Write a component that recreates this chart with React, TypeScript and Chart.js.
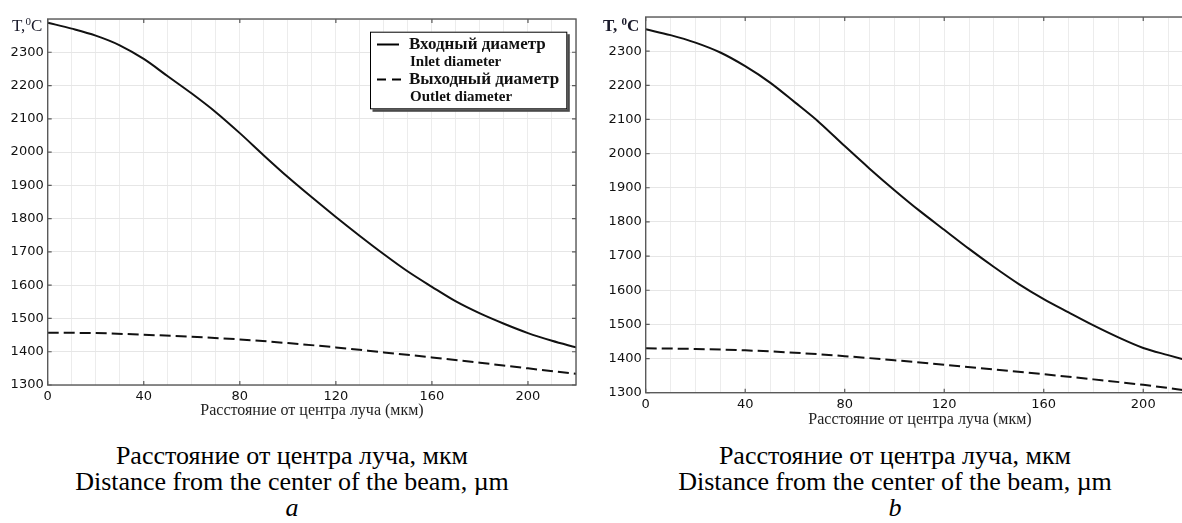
import React, { useEffect, useRef } from "react";
import { Chart, registerables } from "chart.js";

Chart.register(...registerables);

// ---- data ----
const inletDistanceA = [0, 10, 20, 30, 40, 50, 60, 70, 80, 90, 100, 110, 120, 130, 140, 150, 160, 170, 180, 190, 200, 210, 220];
const inletA = [2389, 2371, 2350, 2321, 2280, 2228, 2176, 2120, 2057, 1990, 1925, 1864, 1805, 1748, 1693, 1641, 1595, 1551, 1515, 1484, 1456, 1433, 1413];
const outletDistanceA = [0, 20, 40, 60, 80, 100, 120, 140, 160, 180, 200, 220];
const outletA = [1457, 1456, 1451, 1445, 1437, 1426, 1413, 1398, 1383, 1367, 1350, 1334];

const inletDistanceB = [0, 10, 20, 30, 40, 50, 60, 70, 80, 90, 100, 110, 120, 130, 140, 150, 160, 170, 180, 190, 200, 210, 220];
const inletB = [2364, 2347, 2325, 2296, 2256, 2208, 2150, 2090, 2022, 1956, 1893, 1833, 1777, 1721, 1668, 1618, 1574, 1535, 1497, 1462, 1431, 1410, 1390];
const outletDistanceB = [0, 20, 40, 60, 80, 100, 120, 140, 160, 180, 200, 220];
const outletB = [1430, 1428, 1424, 1417, 1407, 1395, 1382, 1368, 1354, 1339, 1323, 1304];

const xLabelValues = [0, 40, 80, 120, 160, 200];
const yLabelValues = [1300, 1400, 1500, 1600, 1700, 1800, 1900, 2000, 2100, 2200, 2300];

const legendTexts = ["Входный диаметр", "Inlet diameter", "Выходный диаметр", "Outlet diameter"];
const axisTitle = "Расстояние от центра луча (мкм)";
const captionRu = "Расстояние от центра луча, мкм";
const captionEn = "Distance from the center of the beam, µm";

type Cfg = {
  xsIn: number[];
  yIn: number[];
  xsOut: number[];
  yOut: number[];
  yAxisWidth: number;
  padTop: number;
  padRight: number;
  padBottom: number;
  legend: boolean;
};

const framePlugin = {
  id: "frameTicks",
  afterDraw(chart: any) {
    const { ctx, chartArea } = chart;
    const { left, right, top, bottom } = chartArea;
    const xs = chart.scales.x;
    const ys = chart.scales.y;
    ctx.save();
    ctx.strokeStyle = "#5a5a5a";
    ctx.lineWidth = 1.4;
    ctx.strokeRect(left, top, right - left, bottom - top);
    ctx.lineWidth = 1.2;
    ctx.beginPath();
    for (const v of xLabelValues) {
      const px = xs.getPixelForValue(v);
      ctx.moveTo(px, bottom);
      ctx.lineTo(px, bottom - 4);
      ctx.moveTo(px, top);
      ctx.lineTo(px, top + 4);
    }
    for (const v of yLabelValues) {
      const py = ys.getPixelForValue(v);
      ctx.moveTo(left, py);
      ctx.lineTo(left + 4, py);
      ctx.moveTo(right, py);
      ctx.lineTo(right - 4, py);
    }
    ctx.stroke();
    ctx.restore();
  },
};

const legendPlugin = {
  id: "customLegend",
  afterDraw(chart: any) {
    const opts = chart.options.plugins.customLegend;
    if (!opts || !opts.show) return;
    const { ctx } = chart;
    const bx = 370, by = 31.7, bw = 197.3, bh = 77.6;
    ctx.save();
    ctx.fillStyle = "#4a4a4a";
    ctx.fillRect(bx + 2.5, by + 2.5, bw, bh);
    ctx.fillStyle = "#ffffff";
    ctx.fillRect(bx, by, bw, bh);
    ctx.strokeStyle = "#000";
    ctx.lineWidth = 1;
    ctx.strokeRect(bx + 0.5, by + 0.5, bw - 1, bh - 1);

    ctx.strokeStyle = "#000";
    ctx.lineWidth = 2;
    ctx.beginPath();
    ctx.moveTo(377, 44.5);
    ctx.lineTo(399, 44.5);
    ctx.stroke();
    ctx.setLineDash([9, 6]);
    ctx.beginPath();
    ctx.moveTo(377, 79.5);
    ctx.lineTo(401, 79.5);
    ctx.stroke();
    ctx.setLineDash([]);

    ctx.fillStyle = "#111";
    ctx.textBaseline = "middle";
    ctx.textAlign = "left";
    ctx.font = "bold 17px 'Liberation Serif'";
    ctx.fillText(legendTexts[0], 409, 45);
    ctx.fillText(legendTexts[2], 409, 80);
    ctx.font = "bold 15px 'Liberation Serif'";
    ctx.fillText(legendTexts[1], 410, 62);
    ctx.fillText(legendTexts[3], 410, 97);
    ctx.restore();
  },
};

function makeConfig(c: Cfg): any {
  return {
    type: "line",
    data: {
      datasets: [
        {
          label: "inlet",
          data: c.xsIn.map((x, i) => ({ x, y: c.yIn[i] })),
          borderColor: "#111",
          borderWidth: 2,
          pointRadius: 0,
          cubicInterpolationMode: "monotone",
          fill: false,
        },
        {
          label: "outlet",
          data: c.xsOut.map((x, i) => ({ x, y: c.yOut[i] })),
          borderColor: "#111",
          borderWidth: 2,
          borderDash: [11, 5],
          pointRadius: 0,
          cubicInterpolationMode: "monotone",
          fill: false,
        },
      ],
    },
    options: {
      animation: false,
      responsive: false,
      layout: { padding: { top: c.padTop, right: c.padRight, bottom: c.padBottom, left: 0 } },
      plugins: {
        legend: { display: false },
        tooltip: { enabled: false },
        customLegend: { show: c.legend },
      },
      scales: {
        x: {
          type: "linear",
          min: 0,
          max: 220,
          border: { display: false },
          grid: { color: "#ececec", lineWidth: 1, drawTicks: false },
          ticks: {
            stepSize: 10,
            autoSkip: false,
            maxRotation: 0,
            padding: 4,
            color: "#111",
            font: { family: "'DejaVu Sans'", size: 13 },
            callback: (v: any) => (xLabelValues.includes(Number(v)) ? String(v) : ""),
          },
          afterFit: (s: any) => {
            s.height = 35;
          },
        },
        y: {
          type: "linear",
          min: 1300,
          max: 2400,
          border: { display: false },
          grid: { color: "#e6e6e6", lineWidth: 1, drawTicks: false },
          ticks: {
            stepSize: 100,
            padding: 4,
            color: "#111",
            font: { family: "'DejaVu Sans'", size: 13 },
            callback: (v: any) => (yLabelValues.includes(Number(v)) ? String(v) : ""),
          },
          afterFit: (s: any) => {
            s.width = c.yAxisWidth;
          },
        },
      },
    },
    plugins: [framePlugin, legendPlugin],
  };
}

function ChartCanvas(props: { cfg: Cfg; left: number; top: number; width: number; height: number }) {
  const ref = useRef<HTMLCanvasElement | null>(null);
  useEffect(() => {
    if (!ref.current) return;
    const chart = new Chart(ref.current, makeConfig(props.cfg));
    return () => chart.destroy();
  }, []);
  return (
    <canvas
      ref={ref}
      width={props.width}
      height={props.height}
      style={{ position: "absolute", left: props.left, top: props.top, width: props.width, height: props.height }}
    />
  );
}

const serif = "'Liberation Serif', 'Times New Roman', serif";

export default function App() {
  const cfgA: Cfg = {
    xsIn: inletDistanceA,
    yIn: inletA,
    xsOut: outletDistanceA,
    yOut: outletA,
    yAxisWidth: 47.7,
    padTop: 19,
    padRight: 6,
    padBottom: 10,
    legend: true,
  };
  const cfgB: Cfg = {
    xsIn: inletDistanceB,
    yIn: inletB,
    xsOut: outletDistanceB,
    yOut: outletB,
    yAxisWidth: 49.7,
    padTop: 17,
    padRight: 6,
    padBottom: 12.3,
    legend: false,
  };
  return (
    <div
      style={{
        position: "fixed",
        left: 0,
        top: 0,
        width: 1182,
        height: 523,
        overflow: "hidden",
        background: "#fff",
        fontFamily: serif,
      }}
    >
      <ChartCanvas cfg={cfgA} left={0} top={0} width={582} height={430} />
      <ChartCanvas cfg={cfgB} left={596} top={0} width={603} height={440} />

      <div style={{ position: "absolute", left: 12, top: 15, fontSize: 17, lineHeight: "22px", color: "#1a1a2a", whiteSpace: "nowrap" }}>
        T,<span style={{ fontSize: 11, position: "relative", top: -6 }}>0</span>C
      </div>
      <div style={{ position: "absolute", left: 603, top: 15, fontSize: 17, lineHeight: "22px", fontWeight: "bold", color: "#1a1a2a", whiteSpace: "nowrap" }}>
        T, <span style={{ fontSize: 11, position: "relative", top: -6 }}>0</span>C
      </div>

      <div style={{ position: "absolute", left: 112, width: 400, top: 401, textAlign: "center", fontSize: 16, lineHeight: "18px", color: "#222" }}>
        {axisTitle}
      </div>
      <div style={{ position: "absolute", left: 720, width: 400, top: 410, textAlign: "center", fontSize: 16, lineHeight: "18px", color: "#222" }}>
        {axisTitle}
      </div>

      <div style={{ position: "absolute", left: -8, width: 600, top: 443, textAlign: "center", fontSize: 26, lineHeight: "26px", color: "#000" }}>
        <div>{captionRu}</div>
        <div>{captionEn}</div>
        <div style={{ fontStyle: "italic" }}>a</div>
      </div>
      <div style={{ position: "absolute", left: 595, width: 600, top: 443, textAlign: "center", fontSize: 26, lineHeight: "26px", color: "#000" }}>
        <div>{captionRu}</div>
        <div>{captionEn}</div>
        <div style={{ fontStyle: "italic" }}>b</div>
      </div>
    </div>
  );
}
